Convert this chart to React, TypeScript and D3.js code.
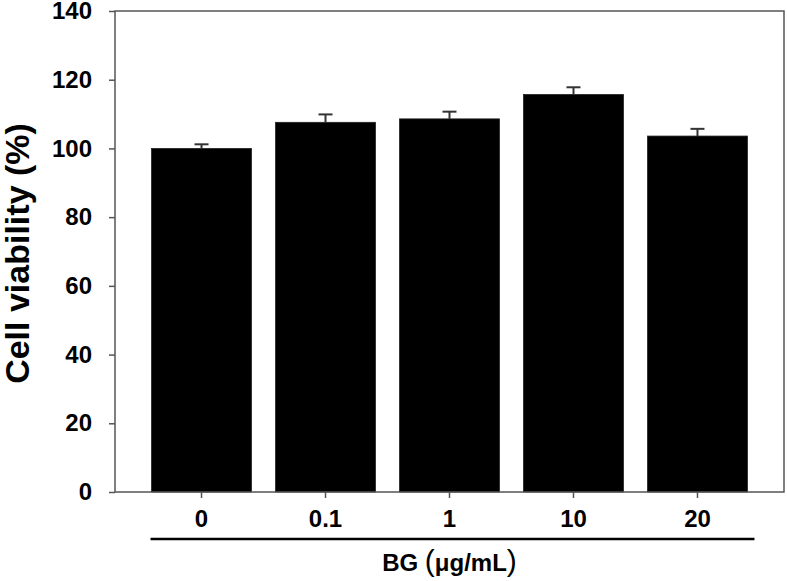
import { useEffect, useRef } from "react";
import * as d3 from "d3";

// BG concentrations (µg/mL)
const doses = ["0", "0.1", "1", "10", "20"];
// mean cell viability (%)
const viability = [100, 107.6, 108.6, 115.7, 103.6];
// standard error (%)
const errors = [1.2, 2.3, 2.1, 2.1, 2.1];
const yTicks = [0, 20, 40, 60, 80, 100, 120, 140];

const W = 787;
const H = 581;
const margin = { left: 115, right: 3, top: 11, bottom: 89 };

export default function App() {
  const ref = useRef<SVGSVGElement>(null);

  useEffect(() => {
    const svg = d3.select(ref.current);
    svg.selectAll("*").remove();

    const x0 = margin.left;
    const x1 = W - margin.right;
    const yb = H - margin.bottom;

    const y = d3.scaleLinear().domain([0, 140]).range([yb, margin.top]);
    const x = d3
      .scaleBand<string>()
      .domain(doses)
      .range([x0 + 24.5, x1 - 24.5])
      .paddingInner(24 / 124)
      .paddingOuter(0.097);

    const font = "'Liberation Sans', Arial, sans-serif";

    // bars
    svg
      .append("g")
      .selectAll("rect")
      .data(doses)
      .join("rect")
      .attr("x", (d) => x(d)!)
      .attr("width", x.bandwidth())
      .attr("y", (_, i) => y(viability[i]))
      .attr("height", (_, i) => yb - y(viability[i]))
      .attr("fill", "#000")
      .attr("stroke", "#222")
      .attr("stroke-width", 0.8);

    // error bars
    const eb = svg.append("g").attr("stroke", "#333").attr("stroke-width", 2);
    doses.forEach((d, i) => {
      const cx = x(d)! + x.bandwidth() / 2;
      eb.append("line")
        .attr("x1", cx)
        .attr("x2", cx)
        .attr("y1", y(viability[i]))
        .attr("y2", y(viability[i] + errors[i]));
      eb.append("line")
        .attr("x1", cx - 7)
        .attr("x2", cx + 7)
        .attr("y1", y(viability[i] + errors[i]))
        .attr("y2", y(viability[i] + errors[i]));
    });

    // frame
    svg
      .append("rect")
      .attr("x", x0)
      .attr("y", margin.top)
      .attr("width", x1 - x0)
      .attr("height", yb - margin.top)
      .attr("fill", "none")
      .attr("stroke", "#555")
      .attr("stroke-width", 1.5);

    // y axis
    const ya = svg
      .append("g")
      .attr("transform", `translate(${x0},0)`)
      .call(d3.axisLeft(y).tickValues(yTicks).tickSize(6).tickPadding(17));
    ya.select(".domain").remove();
    ya.selectAll("line").attr("stroke", "#555").attr("stroke-width", 1.5);
    ya.selectAll("text")
      .attr("font-family", font)
      .attr("font-weight", "bold")
      .attr("font-size", 24)
      .attr("fill", "#000");

    // x axis
    const xa = svg
      .append("g")
      .attr("transform", `translate(0,${yb})`)
      .call(d3.axisBottom(x).tickSize(6).tickPadding(12));
    xa.select(".domain").remove();
    xa.selectAll("line").attr("stroke", "#555").attr("stroke-width", 1.5);
    xa.selectAll("text")
      .attr("font-family", font)
      .attr("font-weight", "bold")
      .attr("font-size", 24)
      .attr("fill", "#000");

    // group underline
    svg
      .append("line")
      .attr("x1", x(doses[0])! - 1)
      .attr("x2", x(doses[doses.length - 1])! + x.bandwidth() + 7)
      .attr("y1", 539)
      .attr("y2", 539)
      .attr("stroke", "#000")
      .attr("stroke-width", 2.5);

    // x title
    const xt = svg
      .append("text")
      .attr("x", x(doses[2])! + x.bandwidth() / 2)
      .attr("y", 571)
      .attr("text-anchor", "middle")
      .attr("font-family", font)
      .attr("font-weight", "bold")
      .attr("font-size", 24);
    xt.append("tspan").text("BG ");
    xt.append("tspan").attr("font-size", 30).attr("font-weight", "normal").text("(");
    xt.append("tspan").text("\u03bcg/mL");
    xt.append("tspan").attr("font-size", 30).attr("font-weight", "normal").text(")");

    // y title
    svg
      .append("text")
      .attr("transform", `translate(29,${(yb + margin.top) / 2 + 2}) rotate(-90)`)
      .attr("text-anchor", "middle")
      .attr("font-family", font)
      .attr("font-weight", "bold")
      .attr("font-size", 34)
      .text("Cell viability (%)");
  }, []);

  return (
    <svg
      ref={ref}
      width={W}
      height={H}
      style={{ position: "absolute", left: 0, top: 0, background: "#fff" }}
    />
  );
}
